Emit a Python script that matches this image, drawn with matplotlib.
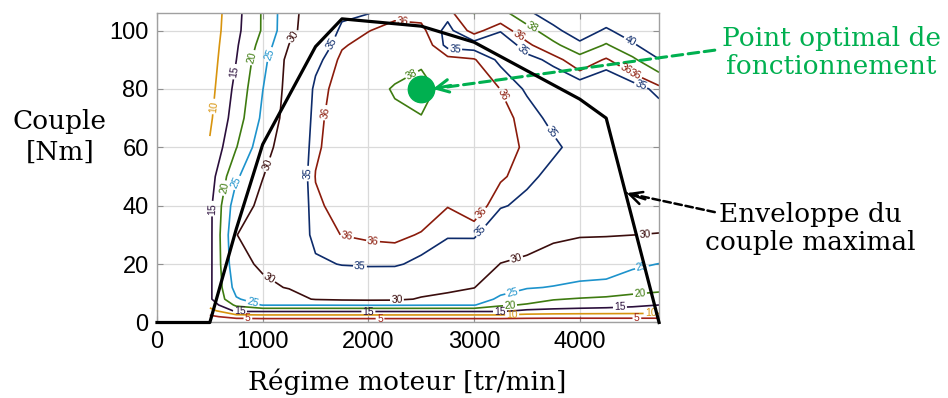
import numpy as np
import matplotlib.pyplot as plt

# engine map grid : speed (rpm) x torque (Nm)
speed = [500, 750, 1000, 1250, 1500, 1750, 2000, 2250, 2500,
         2750, 3000, 3250, 3500, 3750, 4000, 4250, 4500, 4750]
torque = [0, 2, 4, 6, 8, 12, 20, 30, 40, 50, 60, 70, 80, 90, 95, 100, 106]

# efficiency (%) one row per torque value
eff = [
    [0, 0, 0, 0, 0, 0, 0, 0, 0, 0, 0, 0, 0, 0, 0, 0, 0, 0],
    [4, 7, 7.5, 7.5, 7.5, 7.5, 7.5, 7.5, 7.5, 7.5, 7.5, 7.5, 7, 6.8, 6.8, 6.8, 6.8, 6.8],
    [8, 16, 16, 16, 16, 16, 16, 16, 16, 16, 16, 16, 14, 13.5, 13.2, 13, 12.8, 12.5],
    [12, 21, 25.3, 25.3, 25.3, 25.4, 25.5, 25.5, 25.4, 25.3, 25.3, 20.8, 19.5, 18, 17.3, 16.8, 16, 15],
    [14.2, 24.5, 27.5, 28.5, 30.3, 30.8, 31, 30.9, 29.6, 28.8, 27.8, 24, 22.2, 20.3, 19.6, 19, 18.3, 17.5],
    [14.0, 27, 29.3, 30.2, 32, 33, 33.3, 33.2, 31.8, 31, 30.1, 27, 25.3, 24.8, 24.3, 24.0, 22.3, 21.6],
    [13.8, 29, 30.5, 31.8, 34.6, 35.1, 35.2, 35.2, 34.6, 33.5, 32.8, 29.9, 29, 28, 26.9, 26.8, 25.8, 24.9],
    [13.7, 29.95, 31.2, 32.5, 35.7, 36.02, 36.2, 36.3, 35.9, 35.2, 35.3, 33, 32.3, 30.8, 30.3, 30.2, 30.02, 29.8],
    [13.8, 28, 31, 32.7, 35.8, 36.4, 36.8, 37.0, 36.8, 36.05, 36.8, 35.2, 34.5, 33, 32.5, 32.3, 32.5, 32.8],
    [12.6, 24.3, 29.9, 32.6, 36.05, 36.6, 37.1, 37.3, 37.2, 36.8, 36.8, 36.2, 35.4, 34.5, 33.8, 33.4, 33.5, 34],
    [10.5, 19.8, 28.3, 32.5, 35.8, 36.7, 37.3, 37.5, 37.6, 37.2, 37, 36.5, 35.8, 35.3, 34.4, 33.9, 34.1, 34.6],
    [9.2, 17.5, 26, 32.2, 35.6, 36.8, 37.5, 37.8, 37.95, 37.4, 37, 36.4, 35.6, 34.6, 34.2, 34.1, 34.3, 34.0],
    [8.4, 16.3, 24.9, 31.8, 35.4, 36.6, 37.6, 38.1, 38.4, 37.6, 36.8, 35.98, 34.8, 34.0, 34.0, 33.5, 34.2, 35.5],
    [7.8, 14.95, 23.5, 31.5, 34.5, 36.3, 37, 37.5, 37.8, 36.4, 36.1, 34.7, 34.6, 35.3, 37.2, 35.8, 37.6, 39.9],
    [7.5, 14.4, 22, 30.1, 33.7, 35.85, 36.5, 37.0, 37.05, 34.6, 34.4, 34.0, 35.6, 37.5, 39.4, 37.8, 39.6, 42],
    [7.2, 13.8, 20.5, 28.7, 32.8, 35.4, 35.95, 36.5, 36.3, 34.6, 36.5, 35.1, 37.2, 39.3, 41.5, 39.6, 41.5, 43.5],
    [7.0, 13.5, 20.5, 28.5, 32.5, 34.6, 34.95, 35.6, 35.6, 35.4, 38.05, 37.3, 39.5, 41.5, 43.5, 42, 43, 45],
]

levels = [5, 10, 15, 20, 25, 30, 35, 36, 38, 40]
level_colors = ['#a1231a', '#d8940e', '#2b0f3c', '#3e7b10', '#1d93cc',
                '#3b0d0d', '#0d2b6b', '#8b1b0b', '#3e7b10', '#0d2b6b']

# where the contour labels sit (speed, torque)
label_pos = [
    (530, 74),
    (720, 86), (530, 39),
    (880, 91), (643, 46),
    (1050, 92), (747, 48),
    (1290, 98), (1050, 54), (1050, 14.5), (3400, 21.7), (4615, 30), (2270, 7.8),
    (1635, 96), (1430, 51), (1920, 19), (3075, 31), (3765, 66), (2820, 93),
    (3470, 93.8), (4570, 80.5),
    (1570, 72), (2325, 103), (3290, 78.5), (3085, 36.7), (1800, 30), (2045, 28.5),
    (3435, 99), (4520, 84),
    (2410, 85), (3545, 100.7), (4445, 87.4),
    (4465, 95.6),
    (900, 6.0), (3360, 10.4), (4590, 18.5),
    (3340, 5.9), (4570, 9.6),
    (785, 4.0), (2000, 3.8), (3245, 3.8), (4380, 5.2),
    (3360, 2.8), (4670, 3.1),
    (860, 1.4), (2110, 1.4), (4540, 1.5),
]

# max torque envelope
env_speed = [0, 500, 750, 1000, 1500, 1750, 2500, 3000, 4000, 4250, 4750]
env_torque = [0, 0, 32, 61, 94.5, 104, 101.5, 96, 76.5, 70, 0]

opt_speed = 2500
opt_torque = 80

green = '#00b050'
serif = 'DejaVu Serif'
plt.rcParams['font.family'] = 'Liberation Sans'

fig = plt.figure(figsize=(9.48, 3.98), dpi=100)
ax = fig.add_axes([0.1656, 0.1897, 0.5296, 0.7776])

cs = ax.contour(speed, torque, eff, levels=levels, colors=level_colors, linewidths=1.2)
ax.clabel(cs, manual=label_pos, fmt='%d', fontsize=7.5, inline=True, inline_spacing=2)

ax.plot(env_speed, env_torque, color='black', lw=2.3, clip_on=False, zorder=4)
ax.plot(opt_speed, opt_torque, 'o', ms=19, color=green, zorder=5)

ax.set_xlim(0, 4750)
ax.set_ylim(0, 106)
ax.set_xticks([0, 1000, 2000, 3000, 4000])
ax.set_yticks([0, 20, 40, 60, 80, 100])
ax.grid(True, color='#dadada', lw=0.9)
ax.set_axisbelow(True)
ax.tick_params(direction='in', top=True, right=True, labelsize=17, length=4,
               color='#909090', pad=6)
for s in ax.spines.values():
    s.set_color('#a0a0a0')
    s.set_linewidth(1.0)

fig.text(0.063, 0.656, 'Couple\n[Nm]', ha='center', va='center', fontsize=19,
         family=serif, linespacing=1.25)
fig.text(0.43, 0.04, 'Régime moteur [tr/min]', ha='center', va='center',
         fontsize=19, family=serif)

# annotations
fig.text(0.877, 0.869, 'Point optimal de\nfonctionnement', ha='center', va='center',
         fontsize=19, family=serif, color=green, linespacing=1.15)
fig.text(0.855, 0.427, 'Enveloppe du\ncouple maximal', ha='center', va='center',
         fontsize=19, family=serif, color='black', linespacing=1.15)

ax.annotate('', xy=(2610, 80), xycoords='data', xytext=(0.754, 0.874),
            textcoords='figure fraction', annotation_clip=False,
            arrowprops=dict(arrowstyle='-', ls=(0, (3.5, 1.8)), lw=2.2, color=green,
                            shrinkA=0, shrinkB=0))
ax.annotate('', xy=(2610, 80), xycoords='data', xytext=(2780, 81.2),
            annotation_clip=False,
            arrowprops=dict(arrowstyle='->,head_length=0.9,head_width=0.45', lw=2.2,
                            color=green, shrinkA=0, shrinkB=0))
ax.annotate('', xy=(4445, 44.3), xycoords='data', xytext=(0.754, 0.467),
            textcoords='figure fraction', annotation_clip=False,
            arrowprops=dict(arrowstyle='-', ls=(0, (3, 1.5)), lw=1.8, color='black',
                            shrinkA=0, shrinkB=0))
ax.annotate('', xy=(4445, 44.3), xycoords='data', xytext=(4620, 42.2),
            annotation_clip=False,
            arrowprops=dict(arrowstyle='->,head_length=0.9,head_width=0.45', lw=1.8,
                            color='black', shrinkA=0, shrinkB=0))

fig.savefig('out.png', dpi=100)
